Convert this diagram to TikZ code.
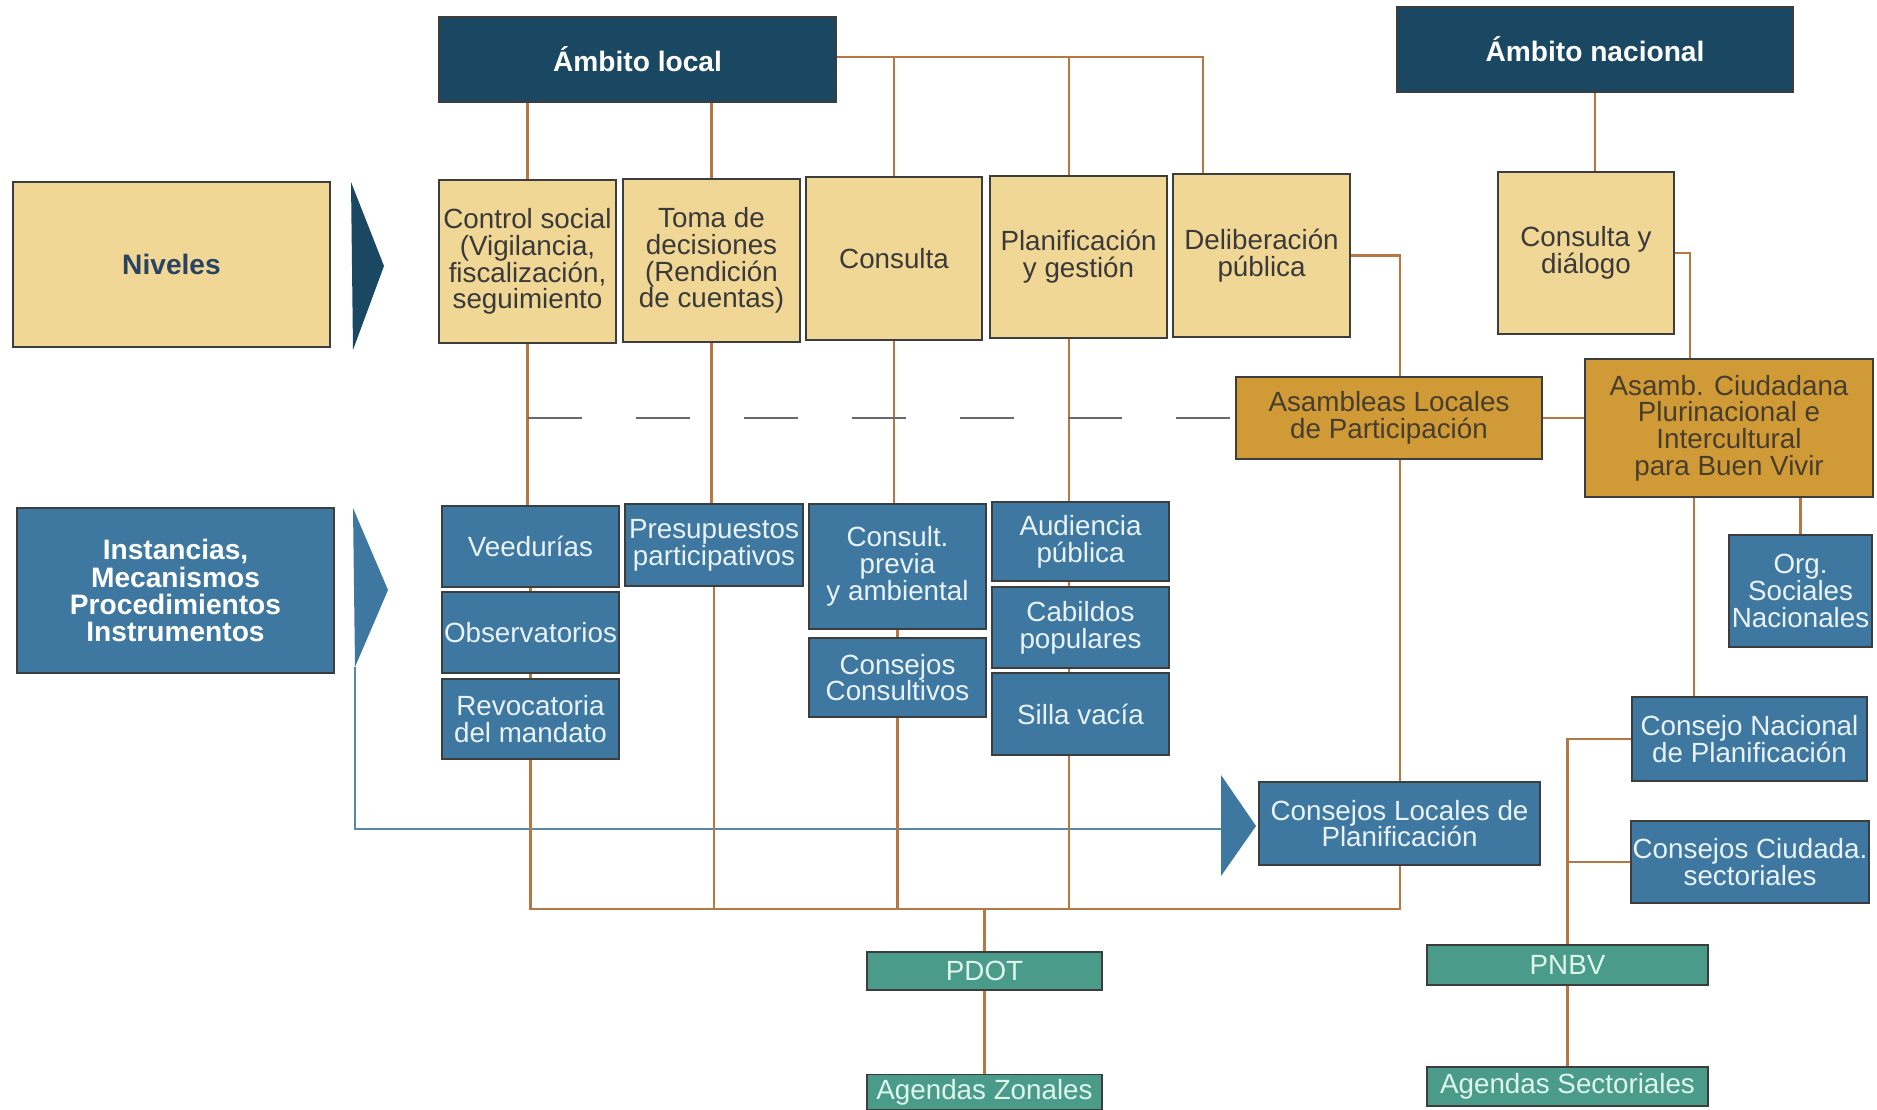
\documentclass[tikz,border=0pt]{standalone}
\usepackage{fontspec}
\setmainfont{Liberation Sans}
\usetikzlibrary{positioning}

\definecolor{azulosc}{RGB}{26,72,98}
\definecolor{crema}{RGB}{241,215,149}
\definecolor{azul}{RGB}{62,120,161}
\definecolor{ocre}{RGB}{208,154,54}
\definecolor{verde}{RGB}{75,155,139}
\definecolor{borde}{RGB}{60,62,62}
\definecolor{cafe}{RGB}{184,118,66}
\definecolor{lineaazul}{RGB}{90,135,165}
\definecolor{gris}{RGB}{105,105,105}
\definecolor{textogris}{RGB}{58,58,58}
\definecolor{textoazul}{RGB}{232,242,248}

\tikzset{
  caja/.style={draw=borde, line width=0.5pt, inner sep=0.5pt, align=center,
    font=\fontsize{7.9}{7.6}\selectfont},
  ambito/.style={caja, fill=azulosc, text=white, font=\fontsize{8}{8}\selectfont\bfseries},
  nivel/.style={caja, fill=crema, text=textogris},
  instancia/.style={caja, fill=azul, text=textoazul},
  asamblea/.style={caja, fill=ocre, text={rgb,255:red,72;green,62;blue,45}},
  plan/.style={caja, fill=verde, text={rgb,255:red,222;green,245;blue,238}},
  conector/.style={draw=cafe, line width=0.6pt},
  flecha/.style={draw=lineaazul, line width=0.6pt},
  discontinua/.style={draw=gris, line width=0.7pt, dash pattern=on 0.54cm off 0.54cm},
}

\begin{document}
\begin{tikzpicture}[x=0.01cm, y=-0.01cm]
\useasboundingbox (0,0) rectangle (1877,1110);

\node[ambito, minimum width=3.97cm, minimum height=0.85cm] (local) at (637.5,59.5) {Ámbito local};
\node[ambito, minimum width=3.96cm, minimum height=0.85cm] (nacional) at (1595,49.5) {Ámbito nacional};

\node[nivel, minimum width=3.17cm, minimum height=1.65cm, text={rgb,255:red,40;green,68;blue,98}, font=\fontsize{8}{8}\selectfont\bfseries] (niveles) at (171.5,264.5) {Niveles};
\node[nivel, minimum width=1.77cm, minimum height=1.63cm] (ctrl) at (527.5,261.5) {Control social\\(Vigilancia,\\fiscalización,\\seguimiento};
\node[nivel, minimum width=1.77cm, minimum height=1.63cm] (toma) at (711.5,260.5) {Toma de\\decisiones\\(Rendición\\de cuentas)};
\node[nivel, minimum width=1.76cm, minimum height=1.63cm] (consulta) at (894,258.5) {Consulta};
\node[nivel, minimum width=1.77cm, minimum height=1.62cm] (planif) at (1078.5,257) {Planificación\\y gestión};
\node[nivel, minimum width=1.77cm, minimum height=1.63cm] (delib) at (1261.5,255.5) {Deliberación\\pública};
\node[nivel, minimum width=1.76cm, minimum height=1.62cm] (dialogo) at (1586,253) {Consulta y\\diálogo};

\node[asamblea, minimum width=3.06cm, minimum height=0.82cm] (asamloc) at (1389,418) {Asambleas Locales\\de Participación};
\node[asamblea, minimum width=2.88cm, minimum height=1.38cm] (asamciu) at (1729,428) {Asamb. Ciudadana\\Plurinacional e\\Intercultural\\para Buen Vivir};

\node[instancia, minimum width=3.17cm, minimum height=1.65cm, text=white, font=\fontsize{8}{7.7}\selectfont\bfseries] (instancias) at (175.5,590.5) {Instancias,\\Mecanismos\\Procedimientos\\Instrumentos};
\node[instancia, minimum width=1.77cm, minimum height=0.81cm] (veed) at (530.5,546.5) {Veedurías};
\node[instancia, minimum width=1.77cm, minimum height=0.81cm] (obs) at (530.5,632.5) {Observatorios};
\node[instancia, minimum width=1.77cm, minimum height=0.80cm] (revoc) at (530.5,719) {Revocatoria\\del mandato};
\node[instancia, minimum width=1.78cm, minimum height=0.82cm] (presup) at (714,545) {Presupuestos\\participativos};
\node[instancia, minimum width=1.77cm, minimum height=1.25cm] (previa) at (897.5,566.5) {Consult.\\previa\\y ambiental};
\node[instancia, minimum width=1.77cm, minimum height=0.79cm] (consultivos) at (897.5,677.5) {Consejos\\Consultivos};
\node[instancia, minimum width=1.77cm, minimum height=0.79cm] (audiencia) at (1080.5,541.5) {Audiencia\\pública};
\node[instancia, minimum width=1.77cm, minimum height=0.81cm] (cabildos) at (1080.5,627.5) {Cabildos\\populares};
\node[instancia, minimum width=1.77cm, minimum height=0.82cm] (silla) at (1080.5,714) {Silla vacía};
\node[instancia, minimum width=1.43cm, minimum height=1.12cm] (orgsoc) at (1800.5,591) {Org.\\Sociales\\Nacionales};
\node[instancia, minimum width=2.35cm, minimum height=0.84cm] (cnp) at (1749.5,739) {Consejo Nacional\\de Planificación};
\node[instancia, minimum width=2.36cm, minimum height=0.82cm] (ccs) at (1750,862) {Consejos Ciudada.\\sectoriales};
\node[instancia, minimum width=2.81cm, minimum height=0.83cm] (clp) at (1399.5,823.5) {Consejos Locales de\\Planificación};

\node[plan, minimum width=2.35cm, minimum height=0.38cm] (pdot) at (984.5,971) {PDOT};
\node[plan, minimum width=2.35cm, minimum height=0.35cm] (zonales) at (984.5,1092) {Agendas Zonales};
\node[plan, minimum width=2.81cm, minimum height=0.40cm] (pnbv) at (1567.5,965) {PNBV};
\node[plan, minimum width=2.81cm, minimum height=0.39cm] (sectoriales) at (1567.5,1086.5) {Agendas Sectoriales};

\coordinate (bx) at (1203,0);
\coordinate (px) at (1069,0);
\coordinate (dx) at (1400,0);
\coordinate (cx) at (1690,0);
\coordinate (nx) at (1694,0);
\coordinate (topy) at (0,57);
\coordinate (busy) at (0,909);
\coordinate (t1a) at (351,182);
\coordinate (t1b) at (384,266);
\coordinate (t1c) at (353,350);
\coordinate (t2a) at (353,508);
\coordinate (t2b) at (388,590);
\coordinate (t2c) at (355,667);
\coordinate (t3a) at (1221,775);
\coordinate (t3b) at (1256,826);
\coordinate (t3c) at (1221,876);
\coordinate (t3m) at (1221,829);

\fill[azulosc] (t1a) -- (t1b) -- (t1c) -- cycle;
\fill[azul] (t2a) -- (t2b) -- (t2c) -- cycle;
\fill[azul] (t3a) -- (t3b) -- (t3c) -- cycle;

\draw[conector] (local.east |- topy) -| (delib.north -| bx);
\draw[conector] (consulta.north) -- (consulta.north |- topy);
\draw[conector] (planif.north -| px) -- (px |- topy);
\draw[conector] (local.south -| ctrl.north) -- (ctrl.north);
\draw[conector] (local.south -| toma.north) -- (toma.north);
\draw[conector] (nacional.south) -- (nacional.south |- dialogo.north);

\draw[conector] (ctrl.south) -- (ctrl.south |- veed.north);
\draw[conector] (veed.south) -- (obs.north);
\draw[conector] (obs.south) -- (revoc.north);
\draw[conector] (toma.south) -- (toma.south |- presup.north);
\draw[conector] (consulta.south) -- (consulta.south |- previa.north);
\draw[conector] (previa.south) -- (consultivos.north);
\draw[conector] (planif.south -| px) -- (px |- audiencia.north);
\draw[conector] (audiencia.south -| px) -- (px |- cabildos.north);
\draw[conector] (cabildos.south -| px) -- (px |- silla.north);

\draw[discontinua] (ctrl.south |- asamloc.west) -- (asamloc.west);
\draw[conector] (delib.east) -| (asamloc.north -| dx);
\draw[conector] (asamloc.south -| dx) -- (clp.north -| dx);
\draw[conector] (asamloc.east) -- (asamloc.east -| asamciu.west);
\draw[conector] (dialogo.east) -| (asamciu.north -| cx);
\draw[conector] (asamciu.south -| orgsoc.north) -- (orgsoc.north);
\draw[conector] (asamciu.south -| nx) -- (cnp.north -| nx);

\draw[flecha] (t2c) |- (t3m);

\draw[conector] (clp.south -| dx) |- (revoc.south |- busy) -- (revoc.south);
\draw[conector] (presup.south) -- (presup.south |- busy);
\draw[conector] (consultivos.south) -- (consultivos.south |- busy);
\draw[conector] (silla.south -| px) -- (px |- busy);
\draw[conector] (pdot.north |- busy) -- (pdot.north);
\draw[conector] (pdot.south) -- (zonales.north);

\draw[conector] (cnp.west) -| (pnbv.north);
\draw[conector] (ccs.west) -- (ccs.west -| pnbv.north);
\draw[conector] (pnbv.south) -- (sectoriales.north);
\end{tikzpicture}
\end{document}
